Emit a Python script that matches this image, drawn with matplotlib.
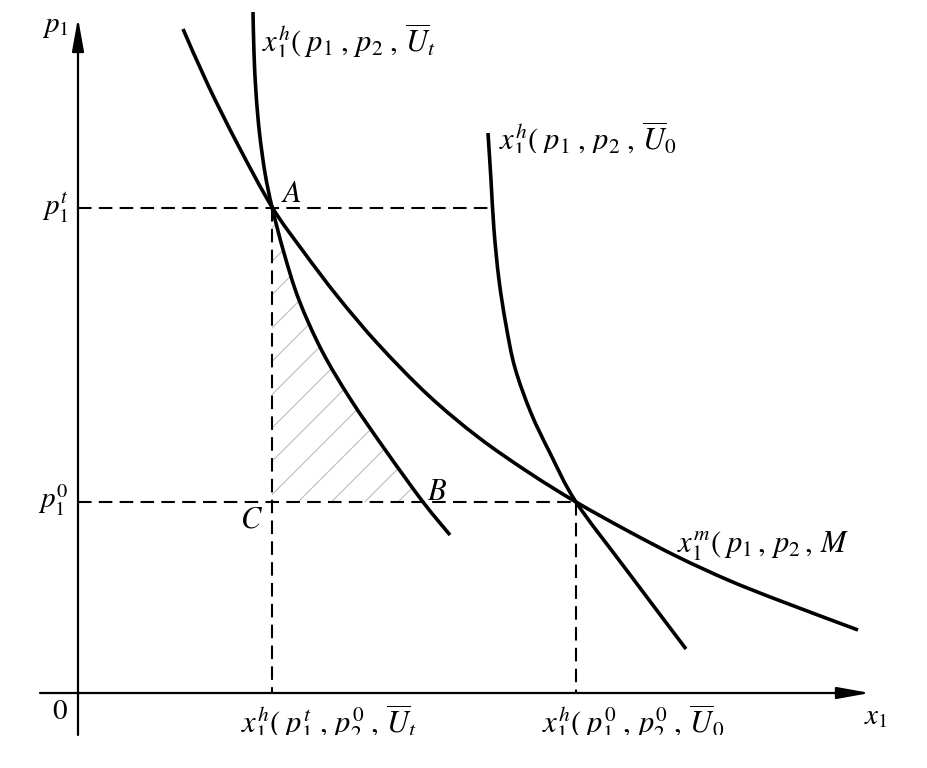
"""Compensating vs. Marshallian demand diagram (p1 against x1)."""

import numpy as np
import matplotlib
matplotlib.use("Agg")
import matplotlib.pyplot as plt
from matplotlib.path import Path
from matplotlib.patches import PathPatch
from matplotlib.transforms import Bbox, TransformedBbox

plt.rcParams["mathtext.fontset"] = "stix"
plt.rcParams["font.family"] = ["Liberation Serif", "DejaVu Serif"]
plt.rcParams["hatch.linewidth"] = 0.8

# Marshallian demand x1^m(p1, p2, M)
marsh_x = [105, 130, 160, 194, 225, 260, 300, 350, 400, 450, 498, 550, 600, 650, 700, 780]
marsh_p = [664, 608, 548, 486, 442, 396, 349, 298, 256, 221, 191, 162, 136, 113, 93, 63]

# Hicksian demand at utility U_t (through A and B)
hick_t_x = [175, 176, 178, 181.5, 187, 194, 206, 221, 244, 273, 308, 345, 372]
hick_t_p = [681, 640, 600, 560, 520, 486, 440, 393, 342, 293, 242, 191, 158]

# Hicksian demand at utility U_0 (through E)
hick_0_x = [410, 413, 416, 421, 428, 437, 453, 472, 498, 547, 608]
hick_0_p = [560, 513, 463, 413, 368, 325, 280, 240, 191, 125, 44]

# reference prices / quantities
p_t, p_0 = 485, 191
x_A, x_E = 194, 498
x_hick0_at_pt = 412
x_B = 345

fig = plt.figure(figsize=(9.28, 7.68), dpi=100)
ax = fig.add_axes([0, 0, 1, 1])
ax.set_xlim(-78, 850)
ax.set_ylim(-75, 693)
ax.set_axis_off()

# axes with arrow heads
arrow = dict(arrowstyle="-|>,head_length=1.0,head_width=0.18", lw=1.6,
             color="black", mutation_scale=20, shrinkA=0, shrinkB=0)
ax.annotate("", xy=(792, 0), xytext=(-38, 0), arrowprops=arrow)
ax.annotate("", xy=(0, 675), xytext=(0, -42), arrowprops=arrow)

# shaded area between C, A and B
hx = np.array(hick_t_x, float)
hp = np.array(hick_t_p, float)
keep = (hp <= p_t + 1) & (hp >= p_0)
poly_x = np.concatenate([[x_A], hx[keep], [x_B, x_A]])
poly_p = np.concatenate([[p_t], hp[keep], [p_0, p_0]])
ax.fill(poly_x, poly_p, facecolor="none", edgecolor="#bdbdbd", hatch="/", lw=0)

# dashed guides
dash = dict(color="black", lw=1.5, dashes=(6.5, 3.5))
ax.plot([0, x_hick0_at_pt], [p_t, p_t], **dash)
ax.plot([x_A, x_A], [p_t, 0], **dash)
ax.plot([0, x_E], [p_0, p_0], **dash)
ax.plot([x_E, x_E], [p_0, 0], **dash)


def smooth_curve(xs, ys, lw=2.6):
    """Draw a smooth Bezier path through the read-off points."""
    pts = np.column_stack([xs, ys]).astype(float)
    ext = np.vstack([pts[0], pts, pts[-1]])
    verts = [pts[0]]
    codes = [Path.MOVETO]
    for i in range(1, len(ext) - 2):
        p0, p1, p2, p3 = ext[i - 1], ext[i], ext[i + 1], ext[i + 2]
        verts += [p1 + (p2 - p0) / 6, p2 - (p3 - p1) / 6, p2]
        codes += [Path.CURVE4] * 3
    ax.add_patch(PathPatch(Path(verts, codes), facecolor="none",
                           edgecolor="black", lw=lw, capstyle="butt"))


smooth_curve(marsh_x, marsh_p)
smooth_curve(hick_t_x, hick_t_p)
smooth_curve(hick_0_x, hick_0_p)


def clipped_text(x, y, s, clip_y, size=22):
    t = ax.text(x, y, s, fontsize=size, ha="left", va="baseline")
    box = TransformedBbox(Bbox([[-100, clip_y], [900, 800]]), ax.transData)
    t.set_clip_box(box)
    t.set_clip_on(True)
    return t


clipped_text(184, 641, r"$x_1^h(\;p_1\;,\,p_2\;,\,\overline{U}_t$", 636)
clipped_text(421, 543, r"$x_1^h(\;p_1\;,\,p_2\;,\,\overline{U}_0$", 540)
ax.text(599, 140, r"$x_1^m(\;p_1\,,\,p_2\,,\,M$", fontsize=22, ha="left", va="baseline")
clipped_text(163, -40, r"$x_1^h(\;p_1^t\;,\,p_2^0\;,\,\overline{U}_t$", -42)
clipped_text(464, -40, r"$x_1^h(\;p_1^0\;,\,p_2^0\;,\,\overline{U}_0$", -42)

# axis labels and points
ax.text(-9, p_t, r"$p_1^t$", fontsize=21, ha="right", va="center")
ax.text(-9, p_0 + 2, r"$p_1^0$", fontsize=21, ha="right", va="center")
ax.text(-9, 666, r"$p_1$", fontsize=21, ha="right", va="center")
ax.text(-18, -19, r"$0$", fontsize=21, ha="center", va="center")
ax.text(798, -24, r"$x_1$", fontsize=21, ha="center", va="center")
ax.text(203, 499, r"$A$", fontsize=22, ha="left", va="center")
ax.text(349, 201, r"$B$", fontsize=22, ha="left", va="center")
ax.text(185, 173, r"$C$", fontsize=22, ha="right", va="center")

fig.savefig("out.png", dpi=100)
